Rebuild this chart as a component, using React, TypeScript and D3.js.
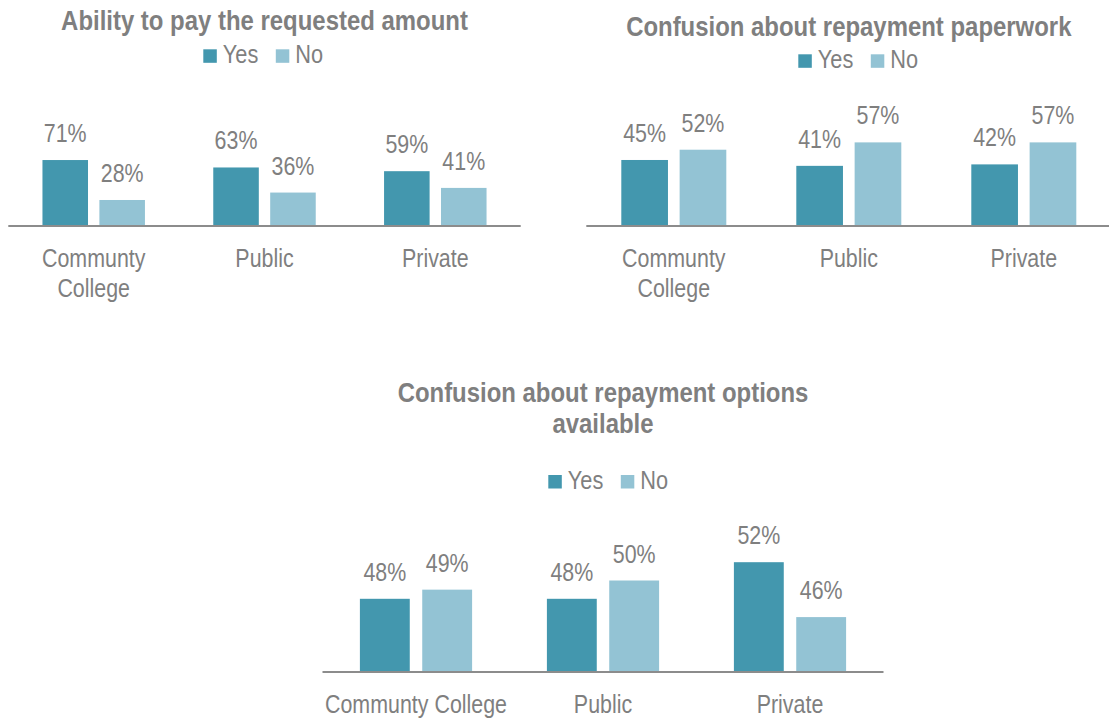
import * as d3 from 'd3'

const categories = ['Communty College', 'Public', 'Private']
const seriesNames = ['Yes', 'No']

const payTitle = ['Ability to pay the requested amount']
const payYes = [71, 63, 59]
const payNo = [28, 36, 41]

const paperworkTitle = ['Confusion about repayment paperwork']
const paperworkYes = [45, 41, 42]
const paperworkNo = [52, 57, 57]

const optionsTitle = ['Confusion about repayment options', 'available']
const optionsYes = [48, 48, 52]
const optionsNo = [49, 50, 46]

const COLORS: Record<string, string> = { Yes: '#4397ae', No: '#93c3d4' }
const TEXT = '#7f7f7f'
const FONT = "'Liberation Sans', Arial, sans-serif"

// no narrow font installed, so squeeze the regular one horizontally
function Txt({ x, y, size, sx, bold, anchor = 'middle', children }: {
  x: number, y: number, size: number, sx: number, bold?: boolean, anchor?: string, children: any
}) {
  return (
    <text transform={`translate(${x},${y}) scale(${sx},1)`} textAnchor={anchor}
      fontSize={size} fontWeight={bold ? 'bold' : 'normal'} fill={TEXT}>{children}</text>
  )
}

interface PanelProps {
  title: string[]
  yes: number[]
  no: number[]
  x0: number
  x1: number
  baseline: number
  yMin: number
  pxPerPct: number
  titleY: number
  legendX: number
  legendY: number
  wrapLabels: boolean
}

function Panel({ title, yes, no, x0, x1, baseline, yMin, pxPerPct, titleY, legendX, legendY, wrapLabels }: PanelProps) {
  const x = d3.scaleBand<string>()
    .domain(categories)
    .range([x0, x1])
    .paddingInner(0.4)
    .paddingOuter(0.2)

  const xInner = d3.scaleBand<string>()
    .domain(seriesNames)
    .range([0, x.bandwidth()])
    .paddingInner(0.2)

  const y = d3.scaleLinear()
    .domain([yMin, 100])
    .range([baseline, baseline - (100 - yMin) * pxPerPct])

  const center = (x0 + x1) / 2
  const rows = categories.map((c, i) => ({ cat: c, values: [yes[i], no[i]] }))

  return (
    <g>
      {title.map((t, i) => (
        <Txt key={t} x={center} y={titleY + i * 31} size={28} sx={0.855} bold>{t}</Txt>
      ))}

      {seriesNames.map((s, i) => (
        <g key={s} transform={`translate(${legendX + i * 72.5},${legendY})`}>
          <rect width={13.5} height={13.5} fill={COLORS[s]} />
          <Txt x={19.5} y={13.8} size={25} sx={0.87} anchor="start">{s}</Txt>
        </g>
      ))}

      {rows.map(r => (
        <g key={r.cat} transform={`translate(${x(r.cat)},0)`}>
          {r.values.map((v, j) => {
            const s = seriesNames[j]
            const bx = xInner(s)!
            const top = y(v)
            return (
              <g key={s}>
                <rect x={bx} y={top} width={xInner.bandwidth()} height={baseline - top} fill={COLORS[s]} />
                <Txt x={bx + xInner.bandwidth() / 2} y={top - 18} size={25.5} sx={0.84}>{v}%</Txt>
              </g>
            )
          })}
        </g>
      ))}

      <line x1={x0} x2={x1} y1={baseline} y2={baseline} stroke="#8c8c8c" strokeWidth={2} />

      {categories.map(c => {
        const lines = wrapLabels ? c.split(' ') : [c]
        const cx = x(c)! + x.bandwidth() / 2
        return lines.map((ln, k) => (
          <Txt key={c + k} x={cx} y={baseline + 41 + k * 30} size={25.5} sx={0.84}>{ln}</Txt>
        ))
      })}
    </g>
  )
}

export default function App() {
  return (
    <svg width={1109} height={718} fontFamily={FONT}
      style={{ position: 'absolute', left: 0, top: 0, background: '#fff' }}>
      <Panel title={payTitle} yes={payYes} no={payNo}
        x0={8.3} x1={520.7} baseline={226} yMin={0} pxPerPct={0.929}
        titleY={30} legendX={203.3} legendY={49.3} wrapLabels />
      <Panel title={paperworkTitle} yes={paperworkYes} no={paperworkNo}
        x0={586.3} x1={1111.3} baseline={226} yMin={0} pxPerPct={1.467}
        titleY={36} legendX={798.3} legendY={54.3} wrapLabels />
      <Panel title={optionsTitle} yes={optionsYes} no={optionsNo}
        x0={322.5} x1={883.5} baseline={672} yMin={40} pxPerPct={9.15}
        titleY={401.7} legendX={548.3} legendY={475} wrapLabels={false} />
    </svg>
  )
}
